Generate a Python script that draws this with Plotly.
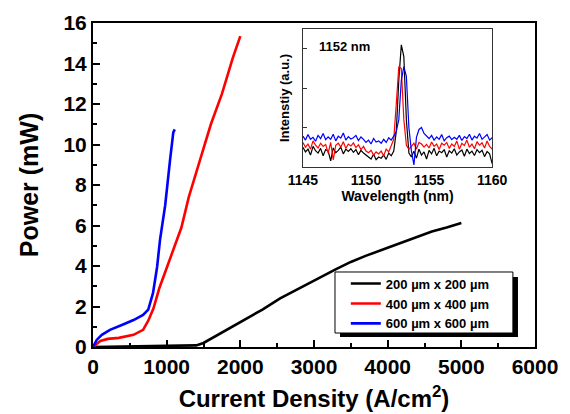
import plotly.graph_objects as go

# ---- Main L-I data ----
black_x = [0, 400, 800, 1200, 1400, 1500, 1700, 2000, 2300, 2540, 2800, 3000, 3300, 3500, 3700, 4000, 4300, 4600, 4800, 5000]
black_y = [0, 0.02, 0.04, 0.06, 0.08, 0.2, 0.62, 1.23, 1.85, 2.4, 2.9, 3.3, 3.85, 4.2, 4.5, 4.9, 5.3, 5.7, 5.9, 6.12]
red_x = [0, 100, 200, 350, 550, 680, 750, 820, 900, 1000, 1100, 1200, 1300, 1450, 1600, 1750, 1900, 2000]
red_y = [0, 0.3, 0.4, 0.45, 0.6, 0.85, 1.3, 1.9, 2.9, 3.95, 4.9, 5.9, 7.4, 9.2, 11.0, 12.5, 14.3, 15.35]
blue_x = [0, 50, 120, 230, 400, 550, 680, 750, 815, 870, 910, 980, 1045, 1090, 1110]
blue_y = [0, 0.35, 0.6, 0.85, 1.1, 1.33, 1.58, 1.85, 2.67, 3.95, 5.3, 7.0, 9.2, 10.6, 10.75]
labels = ["200 µm x 200 µm", "400 µm x 400 µm", "600 µm x 600 µm"]

# ---- Inset spectra (wavelength step 0.2 nm from 1145 nm) ----
wl = [round(1145 + 0.2 * i, 1) for i in range(76)]
spec_black = [0.50, 0.38, 0.45, 0.30, 0.52, 0.41, 0.35, 0.47, 0.28, 0.44,
              0.40, 0.15, 0.48, 0.36, 0.42, 0.50, 0.33, 0.45, 0.39, 0.46,
              0.37, 0.44, 0.31, 0.42, 0.35, 0.30, 0.26, 0.20, 0.32, 0.18,
              0.25, 0.22, 0.30, 0.19, 0.35, 0.28, 0.40,
              0.90, 2.20, 3.10, 2.80, 1.20, 0.35,
              0.25, 0.40, 0.22, 0.45, 0.30, 0.38, 0.20,
              0.42, 0.33, 0.47, 0.28, 0.40, 0.36, 0.44, 0.25, 0.41, 0.35,
              0.46, 0.30, 0.38, 0.43, 0.27, 0.45, 0.34, 0.40, 0.29, 0.44,
              0.36, 0.42, 0.26, 0.39, 0.33, 0.08]
spec_red = [0.62, 0.50, 0.58, 0.45, 0.66, 0.55, 0.48, 0.60, 0.52, 0.57,
            0.35, 0.62, 0.18, 0.55, 0.60, 0.50, 0.64, 0.47, 0.58, 0.53,
            0.61, 0.49, 0.56, 0.44, 0.52, 0.40, 0.36, 0.42, 0.30, 0.38,
            0.33, 0.40, 0.28, 0.45, 0.38, 0.55, 0.70,
            1.60, 2.55, 2.50, 1.20, 0.55, 0.45,
            0.52, 0.60, 0.45, 0.62, 0.58, 0.50, 0.57,
            0.48, 0.63, 0.52, 0.58, 0.44, 0.60, 0.55, 0.62, 0.47, 0.58,
            0.52, 0.66, 0.45, 0.60, 0.54, 0.68, 0.50, 0.58, 0.46, 0.64,
            0.55, 0.61, 0.48, 0.66, 0.52, 0.45]
spec_blue = [0.78, 0.68, 0.82, 0.70, 0.75, 0.65, 0.80, 0.72, 0.85, 0.69,
             0.76, 0.70, 0.83, 0.66, 0.78, 0.73, 0.86, 0.68, 0.77, 0.71,
             0.74, 0.80, 0.67, 0.76, 0.70, 0.62, 0.68, 0.58, 0.72, 0.63,
             0.66, 0.60, 0.70, 0.62, 0.74, 0.68, 0.78,
             0.90, 1.20, 2.20, 2.55, 2.30, 1.00,
             0.40, 0.05, 0.75, 0.95, 1.00, 0.85, 0.78,
             0.72, 0.80, 0.68, 0.76, 0.70, 0.82, 0.66, 0.74, 0.78, 0.69,
             0.75, 0.70, 0.80, 0.67, 0.77, 0.72, 0.83, 0.68, 0.78, 0.73,
             0.85, 0.70, 0.76, 0.82, 0.68, 0.74]

FONT = "Liberation Sans, Arial, sans-serif"

fig = go.Figure()
for x, y, c, n in [(black_x, black_y, "black", labels[0]),
                   (red_x, red_y, "red", labels[1]),
                   (blue_x, blue_y, "blue", labels[2])]:
    fig.add_trace(go.Scatter(x=x, y=y, mode="lines", name=n,
                             line=dict(color=c, width=2.6)))

for y, c in [(spec_black, "black"), (spec_red, "red"), (spec_blue, "blue")]:
    fig.add_trace(go.Scatter(x=wl, y=y, mode="lines", showlegend=False,
                             line=dict(color=c, width=1.2),
                             xaxis="x2", yaxis="y2"))

axis_common = dict(showgrid=False, zeroline=False, showline=True,
                   linecolor="black", mirror=True, ticks="inside",
                   tickcolor="black", automargin=False)

fig.update_layout(
    width=562, height=406,
    margin=dict(l=85, r=35, t=15, b=67),
    paper_bgcolor="white", plot_bgcolor="white",
    font=dict(family=FONT, color="black"),
    xaxis=dict(range=[0, 6000], dtick=1000, ticklen=7, tickwidth=2, linewidth=2,
               minor=dict(dtick=500, ticklen=4, tickwidth=1.5, ticks="inside", tickcolor="black"),
               tickfont=dict(size=21, weight="bold"),
               title=dict(text="Current Density (A/cm<sup>2</sup>)",
                          font=dict(size=24, weight="bold"), standoff=13),
               **axis_common),
    yaxis=dict(range=[0, 16], dtick=2, ticklen=7, tickwidth=2, linewidth=2,
               minor=dict(dtick=1, ticklen=4, tickwidth=1.5, ticks="inside", tickcolor="black"),
               tickfont=dict(size=21, weight="bold"),
               title=dict(text="Power (mW)", font=dict(size=25, weight="bold"), standoff=18),
               **axis_common),
    xaxis2=dict(domain=[0.475, 0.903], anchor="y2", range=[1145, 1160], dtick=5,
                showgrid=False, zeroline=False, showline=True, linecolor="#333",
                linewidth=1, mirror=True, ticks="", automargin=False,
                tickfont=dict(size=14, weight="bold"),
                title=dict(text="Wavelength (nm)", font=dict(size=14, weight="bold"), standoff=2)),
    yaxis2=dict(domain=[0.556, 0.981], anchor="x2", range=[0, 3.5], dtick=1,
                showgrid=False, zeroline=False, showline=True, linecolor="#333",
                linewidth=1, mirror=True, ticks="inside", ticklen=4, tickcolor="#333",
                showticklabels=False, automargin=False,
                title=dict(text="Intenstiy (a.u.)", font=dict(size=13, weight="bold"), standoff=9)),
    legend=dict(x=0.572, y=0.242, xanchor="left", yanchor="top",
                bgcolor="rgba(0,0,0,0)", borderwidth=0,
                font=dict(size=13, weight="bold"), tracegroupgap=0,
                itemwidth=30),
    annotations=[dict(text="1152 nm", xref="x2", yref="y2", x=1148.3, y=3.05,
                      showarrow=False, font=dict(size=13, weight="bold"))],
    shapes=[dict(type="rect", xref="paper", yref="paper",
                 x0=0.5588, x1=0.9615, y0=0.0309, y1=0.216,
                 fillcolor="black", line=dict(width=0), layer="above"),
            dict(type="rect", xref="paper", yref="paper",
                 x0=0.5475, x1=0.950, y0=0.0432, y1=0.2315,
                 fillcolor="white", line=dict(width=1, color="black"), layer="above")],
)

fig.write_html("out.html")
